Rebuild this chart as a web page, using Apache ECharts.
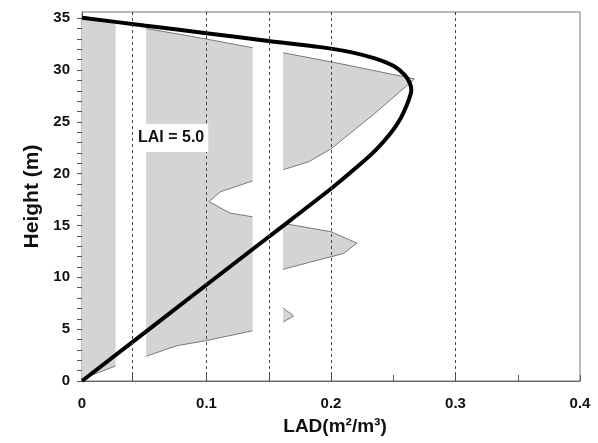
<!DOCTYPE html>
<html>
<head>
<meta charset="utf-8">
<script src="https://cdn.jsdelivr.net/npm/echarts@6/dist/echarts.min.js"></script>
<style>
  html, body { margin: 0; padding: 0; background: #fff; }
  #chart { width: 598px; height: 443px; }
</style>
</head>
<body>
<div id="chart"></div>
<script>
// LAD profile (grey area): LAD value and height
var profileLad    = [0, 0.027, 0.052, 0.076, 0.100, 0.137, 0.162, 0.170, 0.162, 0.150, 0.162, 0.210, 0.221, 0.200, 0.162, 0.137, 0.119, 0.102, 0.111, 0.137, 0.162, 0.182, 0.200, 0.235, 0.260, 0.267, 0.208, 0.162, 0.137, 0.095, 0.052, 0];
var profileHeight = [0.2, 1.45, 2.4, 3.4, 3.9, 4.85, 5.72, 6.27, 7.0, 8.6, 10.8, 12.3, 13.3, 14.4, 15.2, 15.84, 16.2, 17.3, 18.25, 19.3, 20.4, 21.15, 22.4, 25.8, 28.4, 29.15, 30.6, 31.66, 32.15, 33.1, 34.0, 35.2];

// white bands where the grey fill is missing
var gapBands = [[0.027, 0.0515], [0.137, 0.1615]];

// black model curve
var curveLad    = [0, 0.0998, 0.1498, 0.1997, 0.2198, 0.2359, 0.2480, 0.2560, 0.2609, 0.2637, 0.2645, 0.2633, 0.2593, 0.2504, 0.2359, 0.2158, 0.1916, 0.1498, 0.0998, 0.0499, 0];
var curveHeight = [0, 9.26, 13.89, 18.52, 20.54, 22.28, 23.92, 25.36, 26.62, 27.58, 28.06, 28.74, 29.51, 30.38, 31.10, 31.73, 32.21, 32.81, 33.56, 34.30, 35.05];

// axes
var xTickValues = [0, 0.04, 0.1, 0.15, 0.2, 0.25, 0.3, 0.35, 0.4];
var xLabelValues = [0, 0.1, 0.2, 0.3, 0.4];
var xDashLines = [0.04, 0.1, 0.15, 0.2, 0.3];
var yTickValues = [0,1,2,3,4,5,6,7,8,9,10,11,12,13,14,15,16,17,18,19,20,21,22,23,24,25,26,27,28,29,30,31,32,33,34,35];
var yLabelValues = [0, 5, 10, 15, 20, 25, 30, 35];

var profilePts = profileLad.map(function (v, i) { return [v, profileHeight[i]]; });
var curvePts = curveLad.map(function (v, i) { return [v, curveHeight[i]]; });

// strips of the x range that keep the grey fill
var strips = [];
var start = 0;
gapBands.forEach(function (b) { strips.push([start, b[0]]); start = b[1]; });
strips.push([start, 0.4]);

function clipEdge(poly, x, keepGreater) {
    var out = [];
    var n = poly.length;
    function inside(p) { return keepGreater ? p[0] >= x : p[0] <= x; }
    function cross(p, q) {
        var t = (x - p[0]) / (q[0] - p[0]);
        return [x, p[1] + t * (q[1] - p[1])];
    }
    for (var i = 0; i < n; i++) {
        var cur = poly[i], prev = poly[(i + n - 1) % n];
        if (inside(cur)) {
            if (!inside(prev)) out.push(cross(prev, cur));
            out.push(cur);
        } else if (inside(prev)) {
            out.push(cross(prev, cur));
        }
    }
    return out;
}

function clipPolyline(pts, a, b) {
    var pieces = [], cur = null;
    for (var i = 0; i < pts.length - 1; i++) {
        var p = pts[i], q = pts[i + 1];
        var t0, t1;
        if (p[0] === q[0]) {
            if (p[0] < a || p[0] > b) { cur = null; continue; }
            t0 = 0; t1 = 1;
        } else {
            var ta = (a - p[0]) / (q[0] - p[0]);
            var tb = (b - p[0]) / (q[0] - p[0]);
            t0 = Math.max(0, Math.min(ta, tb));
            t1 = Math.min(1, Math.max(ta, tb));
        }
        if (t0 > t1) { cur = null; continue; }
        var P0 = [p[0] + t0 * (q[0] - p[0]), p[1] + t0 * (q[1] - p[1])];
        var P1 = [p[0] + t1 * (q[0] - p[0]), p[1] + t1 * (q[1] - p[1])];
        if (cur && t0 === 0) {
            cur.push(P1);
        } else {
            cur = [P0, P1];
            pieces.push(cur);
        }
        if (t1 < 1) cur = null;
    }
    return pieces;
}

var myChart = echarts.init(document.getElementById('chart'));
var font = 'Arial, "Liberation Sans", sans-serif';

option = {
    animation: false,
    backgroundColor: '#fff',
    title: {
        text: 'LAI = 5.0',
        left: 133,
        top: 124,
        backgroundColor: '#fff',
        padding: [6, 4, 6, 5],
        textStyle: { fontFamily: font, fontSize: 16, fontWeight: 'bold', color: '#111' }
    },
    grid: {
        left: 82, right: 18, top: 12, bottom: 62,
        show: true, borderColor: '#777', borderWidth: 1
    },
    xAxis: {
        type: 'value', min: 0, max: 0.4, interval: 0.1,
        name: 'LAD(m²/m³)', nameLocation: 'middle', nameGap: 36,
        nameTextStyle: { fontFamily: font, fontSize: 19, fontWeight: 'bold', color: '#111', padding: [0, 0, 0, 8] },
        axisLine: { show: true, lineStyle: { color: '#666', width: 1 } },
        axisTick: { show: true, inside: true, length: 6, customValues: xTickValues, lineStyle: { color: '#555' } },
        axisLabel: { customValues: xLabelValues, margin: 15, fontFamily: font, fontSize: 15, fontWeight: 'bold', color: '#111' },
        splitLine: { show: false }
    },
    yAxis: {
        type: 'value', min: 0, max: 35.6, interval: 5,
        name: 'Height (m)', nameLocation: 'middle', nameGap: 38, nameRotate: 90,
        nameTextStyle: { fontFamily: font, fontSize: 21, fontWeight: 'bold', color: '#111' },
        axisLine: { show: true, lineStyle: { color: '#666', width: 1 } },
        axisTick: { show: true, inside: false, length: 5, customValues: yTickValues, lineStyle: { color: '#555' } },
        axisLabel: { customValues: yLabelValues, margin: 12, fontFamily: font, fontSize: 15, fontWeight: 'bold', color: '#111' },
        splitLine: { show: false }
    },
    series: [
        {
            // dashed vertical lines
            type: 'line', data: [], z: 1, silent: true,
            markLine: {
                silent: true, symbol: 'none', animation: false,
                label: { show: false },
                lineStyle: { color: '#444', width: 1, type: [3, 3] },
                data: xDashLines.map(function (v) { return { xAxis: v }; })
            }
        },
        {
            // grey LAD profile, with white gaps
            type: 'custom', z: 2, silent: true,
            data: strips.map(function (s) { return [s[0], 0]; }),
            renderItem: function (params, api) {
                var s = strips[params.dataIndex];
                var poly = clipEdge(clipEdge(profilePts.concat([[0, 0]]), s[0], true), s[1], false);
                var children = [];
                if (poly.length > 2) {
                    children.push({
                        type: 'polygon',
                        shape: { points: poly.map(function (p) { return api.coord(p); }) },
                        style: { fill: '#d4d4d4', stroke: null }
                    });
                }
                clipPolyline(profilePts, s[0], s[1]).forEach(function (piece) {
                    children.push({
                        type: 'polyline',
                        shape: { points: piece.map(function (p) { return api.coord(p); }) },
                        style: { fill: null, stroke: '#7a7a7a', lineWidth: 1 }
                    });
                });
                return { type: 'group', children: children };
            }
        },
        {
            // black curve
            type: 'line', z: 4, data: curvePts, smooth: 0.3,
            symbol: 'none', silent: true,
            lineStyle: { color: '#000', width: 4 }
        }
    ]
};
myChart.setOption(option);
</script>
</body>
</html>
